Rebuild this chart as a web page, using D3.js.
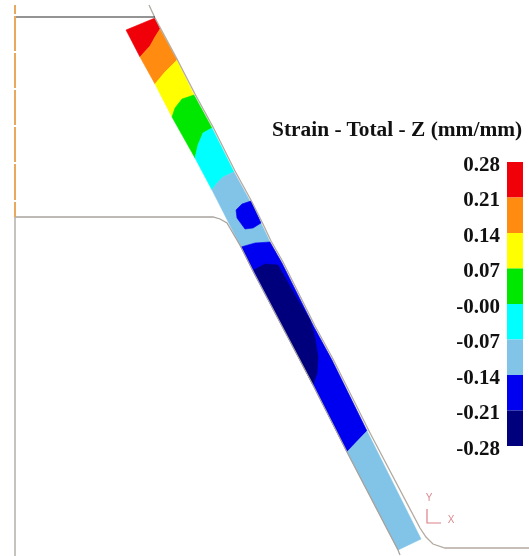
<!DOCTYPE html>
<html>
<head>
<meta charset="utf-8">
<script src="https://d3js.org/d3.v7.min.js"></script>
<style>
  html, body { margin: 0; padding: 0; background: #fff; }
  svg { display: block; filter: blur(0.4px); }
</style>
</head>
<body>
<div id="grafico"></div>
<script>
// legenda
const legendTicks = [0.28, 0.21, 0.14, 0.07, 0, -0.07, -0.14, -0.21, -0.28];
const legendLabels = ["0.28", "0.21", "0.14", "0.07", "-0.00", "-0.07", "-0.14", "-0.21", "-0.28"];
const legendColors = ["#f00008", "#ff8c10", "#ffff00", "#00e800", "#00ffff", "#82c4e8", "#0000f0", "#00007c"];
const title = "Strain - Total - Z (mm/mm)";

// zonas do contorno (coordenadas do modelo)
const zoneRed = [[126,30],[155,18],[160,29],[155,37],[150,46],[140,57]];
const zoneOrange = [[140,57],[150,46],[155,37],[160,29],[177,60],[165,72],[155,84]];
const zoneYellow = [[155,84],[165,72],[177,60],[194,95],[182,99],[175,108],[172,117]];
const zoneGreen = [[172,117],[175,108],[182,99],[194,95],[212,128],[203,133],[198,145],[195,158]];
const zoneCyan = [[195,158],[198,145],[203,133],[212,128],[234,172],[223,177],[217,183],[212,190]];
const zoneLight = [[212,190],[217,183],[223,177],[234,172],[251,203],[261,223],[270,242],[255,243],[241,247]];
const zoneSpot = [[251,201],[242,204],[236,210],[237,218],[245,229],[253,228],[261,223]];
const zoneBlue = [[241,247],[255,243],[270,242],[282,263],[314,327],[332,360],[367,431],[347,452],[313,385],[254,273]];
const zoneNavy = [[254,270],[265,264],[278,265],[295,295],[310,320],[315,338],[318,357],[317,373],[313,385]];
const zoneEnd = [[347,452],[367,431],[421,539],[398,550]];

// linhas das ferramentas
const axisLine = [[15,5],[15,217]];
const topLine = [[15,17],[155,17]];
const lowerDie = [[15,556],[15,217],[213,217],[220,219],[227,223],[241,247],[254,273],[313,385],[347,452],[398,550],[400,555]];
const upperDie = [[149,5],[155,18],[177,59],[195,94],[213,127],[235,171],[252,202],[262,222],[271,241],[283,262],[315,326],[333,359],[369,431],[420,528],[426,537],[433,544],[445,548],[529,548]];
const axisGaps = [15, 52, 89, 126, 163, 201];

const width = 529, height = 556;

const svg = d3.select("#grafico")
  .append("svg")
    .attr("width", width)
    .attr("height", height);

const x = d3.scaleLinear().domain([0, 529]).range([0, width]);
const y = d3.scaleLinear().domain([0, 556]).range([0, height]);
const line = d3.line().x(d => x(d[0])).y(d => y(d[1]));

const plot = svg.append("g");

// zonas coloridas
const zones = [
  [zoneRed, 0], [zoneOrange, 1], [zoneYellow, 2], [zoneGreen, 3], [zoneCyan, 4],
  [zoneLight, 5], [zoneSpot, 6], [zoneBlue, 6], [zoneNavy, 7], [zoneEnd, 5]
];
plot.selectAll("path.zone")
  .data(zones)
  .join("path")
    .attr("class", "zone")
    .attr("d", d => line(d[0]) + "Z")
    .attr("fill", d => legendColors[d[1]])
    .attr("stroke", d => legendColors[d[1]])
    .attr("stroke-width", 0.6);

// contornos
plot.append("path").attr("d", line(lowerDie)).attr("fill", "none").attr("stroke", "#a8a29c").attr("stroke-width", 1.3);
plot.append("path").attr("d", line(upperDie)).attr("fill", "none").attr("stroke", "#b3aaa0").attr("stroke-width", 1.3);
plot.append("path").attr("d", line(topLine)).attr("fill", "none").attr("stroke", "#2a2a2a").attr("stroke-width", 1.2);
plot.append("path").attr("d", line(axisLine)).attr("fill", "none").attr("stroke", "#e8a860").attr("stroke-width", 2);

plot.selectAll("rect.gap")
  .data(axisGaps)
  .join("rect")
    .attr("class", "gap")
    .attr("x", x(13))
    .attr("y", d => y(d) - 1)
    .attr("width", 4)
    .attr("height", 2)
    .attr("fill", "#fff");

// triedro
const triad = svg.append("g").attr("fill", "#d98a90");
svg.append("path")
  .attr("d", line([[427,509],[427,523],[441,523]]))
  .attr("fill", "none")
  .attr("stroke", "#dc8088")
  .attr("stroke-width", 1.2);
triad.append("text").attr("x", x(429)).attr("y", y(501)).attr("text-anchor", "middle")
  .style("font", "10px 'Liberation Sans', sans-serif").text("Y");
triad.append("text").attr("x", x(451)).attr("y", y(523)).attr("text-anchor", "middle")
  .style("font", "10px 'Liberation Sans', sans-serif").text("X");

// escala de cores
const legendY = d3.scaleLinear().domain([0.28, -0.28]).range([162, 446]);

svg.selectAll("rect.band")
  .data(legendColors)
  .join("rect")
    .attr("class", "band")
    .attr("x", 507)
    .attr("y", (d, i) => legendY(legendTicks[i]))
    .attr("width", 16)
    .attr("height", (d, i) => legendY(legendTicks[i + 1]) - legendY(legendTicks[i]))
    .attr("fill", d => d);

const legendAxis = d3.axisLeft(legendY)
  .tickValues(legendTicks)
  .tickSize(0)
  .tickPadding(0)
  .tickFormat((d, i) => legendLabels[i]);

svg.append("g")
  .attr("transform", "translate(500,1.5)")
  .call(legendAxis)
  .call(g => g.select(".domain").remove())
  .selectAll("text")
    .attr("fill", "#111")
    .style("font", "bold 21px 'Liberation Serif', serif");

svg.append("text")
  .attr("x", 272)
  .attr("y", 136)
  .attr("fill", "#111")
  .style("font", "bold 21.4px 'Liberation Serif', serif")
  .text(title);
</script>
</body>
</html>
